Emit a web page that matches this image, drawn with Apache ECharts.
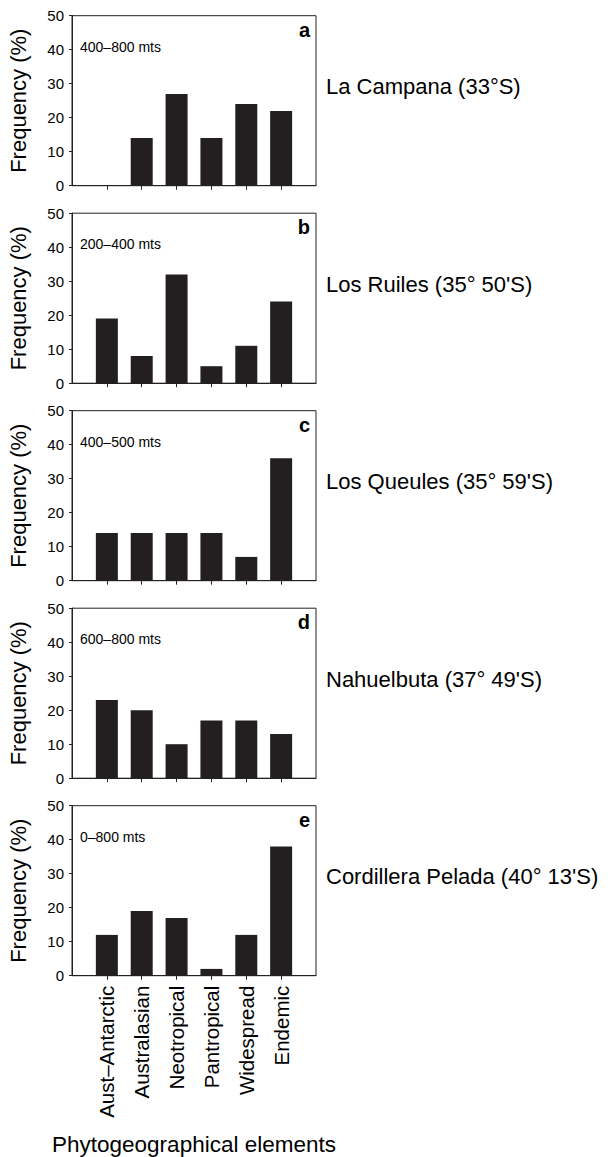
<!DOCTYPE html>
<html>
<head>
<meta charset="utf-8">
<script src="https://cdn.jsdelivr.net/npm/echarts@6/dist/echarts.min.js"></script>
<style>
html,body{margin:0;padding:0;background:#fff;}
#chart{width:612px;height:1157px;}
</style>
</head>
<body>
<div id="chart"></div>
<script>
// ---- data ----
const categories = ['Aust–Antarctic', 'Australasian', 'Neotropical', 'Pantropical', 'Widespread', 'Endemic'];
const laCampana = [0, 14, 27, 14, 24, 22];
const losRuiles = [19, 8, 32, 5, 11, 24];
const losQueules = [14, 14, 14, 14, 7, 36];
const nahuelbuta = [23, 20, 10, 17, 17, 13];
const cordilleraPelada = [12, 19, 17, 2, 12, 38];
const siteNames = ['La Campana (33°S)', "Los Ruiles (35° 50'S)", "Los Queules (35° 59'S)", "Nahuelbuta (37° 49'S)", "Cordillera Pelada (40° 13'S)"];
const altitudeRanges = ['400–800 mts', '200–400 mts', '400–500 mts', '600–800 mts', '0–800 mts'];
const panelLetters = ['a', 'b', 'c', 'd', 'e'];
const yMin = 0, yMax = 50, yStep = 10;
const yAxisTitle = 'Frequency (%)';
const xAxisTitle = 'Phytogeographical elements';

const panels = [laCampana, losRuiles, losQueules, nahuelbuta, cordilleraPelada];

// ---- layout ----
const FONT = '"Liberation Sans", Arial, Helvetica, sans-serif';
const gridLeft = 72, gridWidth = 244, gridHeight = 170, firstTop = 15.7, step = 197.5;
const axisColor = '#222';
const barColor = '#231f20';

const paddedCats = [''].concat(categories, ['']);
const grids = [], xAxes = [], yAxes = [], series = [], graphics = [];

panels.forEach((vals, i) => {
  const top = firstTop + step * i;
  const isLast = i === panels.length - 1;
  grids.push({
    left: gridLeft, top: top, width: gridWidth, height: gridHeight,
    show: true, borderColor: axisColor, borderWidth: 1, backgroundColor: 'transparent'
  });
  xAxes.push({
    type: 'category', gridIndex: i, data: paddedCats, boundaryGap: false,
    axisLine: { show: true, lineStyle: { color: axisColor, width: 1 } },
    axisTick: { show: true, inside: false, length: 4, lineStyle: { color: axisColor },
      interval: (idx) => idx >= 1 && idx <= categories.length },
    axisLabel: { show: isLast, rotate: 90, interval: 0, margin: 10, color: '#000',
      fontFamily: FONT, fontSize: 20.5 },
    splitLine: { show: false },
    name: isLast ? xAxisTitle : '', nameLocation: 'middle', nameGap: 157,
    nameTextStyle: { color: '#000', fontFamily: FONT, fontSize: 22.5 }
  });
  yAxes.push({
    type: 'value', gridIndex: i, min: yMin, max: yMax, interval: yStep,
    axisLine: { show: true, lineStyle: { color: axisColor, width: 1 } },
    axisTick: { show: true, inside: false, length: 3, lineStyle: { color: axisColor } },
    axisLabel: { color: '#000', fontFamily: FONT, fontSize: 15, margin: 8 },
    splitLine: { show: false },
    name: yAxisTitle, nameLocation: 'middle', nameGap: 43,
    nameTextStyle: { color: '#000', fontFamily: FONT, fontSize: 22 }
  });
  series.push({
    type: 'bar', xAxisIndex: i, yAxisIndex: i,
    data: [null].concat(vals, [null]),
    barWidth: 22,
    itemStyle: { color: barColor },
    silent: true, animation: false
  });
  graphics.push({
    type: 'text', x: gridLeft + 8, y: top + 31,
    style: { text: altitudeRanges[i], font: '14px ' + FONT, fill: '#000',
      align: 'left', verticalAlign: 'middle', textAlign: 'left', textVerticalAlign: 'middle' }
  });
  graphics.push({
    type: 'text', x: gridLeft + gridWidth - 6, y: top + 14,
    style: { text: panelLetters[i], font: 'bold 20px ' + FONT, fill: '#000',
      align: 'right', verticalAlign: 'middle', textAlign: 'right', textVerticalAlign: 'middle' }
  });
  graphics.push({
    type: 'text', x: 326, y: top + 71,
    style: { text: siteNames[i], font: '22px ' + FONT, fill: '#000',
      align: 'left', verticalAlign: 'middle', textAlign: 'left', textVerticalAlign: 'middle' }
  });
});

const chart = echarts.init(document.getElementById('chart'), null, { renderer: 'svg' });
chart.setOption({
  backgroundColor: '#fff',
  animation: false,
  grid: grids,
  xAxis: xAxes,
  yAxis: yAxes,
  series: series,
  graphic: graphics
});
</script>
</body>
</html>
